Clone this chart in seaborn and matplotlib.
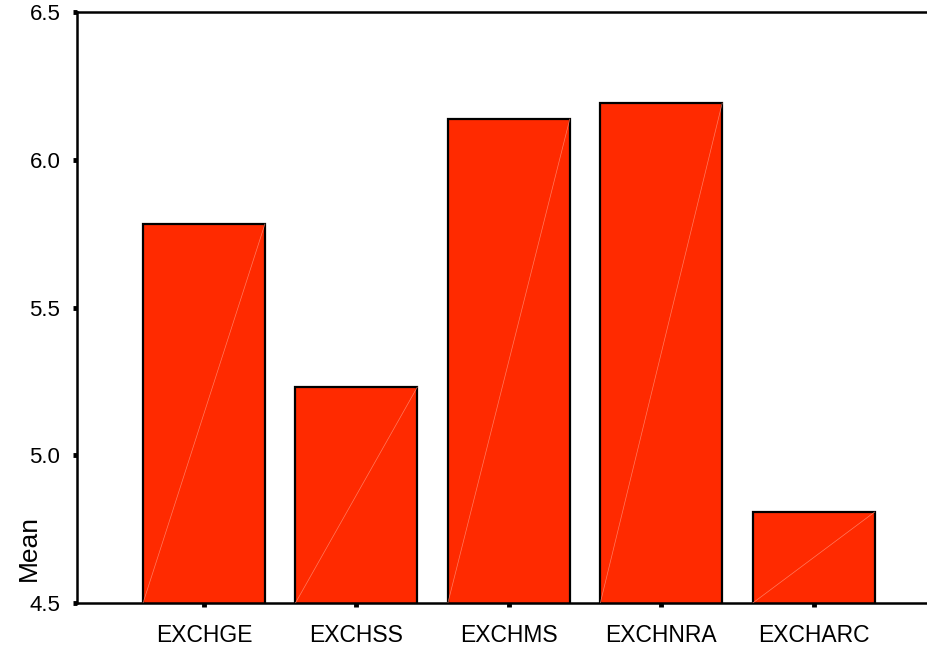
import matplotlib
matplotlib.use('Agg')
import matplotlib.pyplot as plt
import seaborn as sns
import pandas as pd

# ==================== DATA ====================
categories = ['EXCHGE', 'EXCHSS', 'EXCHMS', 'EXCHNRA', 'EXCHARC']
means = [5.783, 5.231, 6.138, 6.192, 4.808]
y_ticks = [4.5, 5.0, 5.5, 6.0, 6.5]

df = pd.DataFrame({'var': categories, 'mean': means})

sns.set_theme(style='white')
plt.rcParams['font.family'] = ['Liberation Sans', 'DejaVu Sans']
plt.rcParams['text.color'] = 'black'
plt.rcParams['axes.labelcolor'] = 'black'
plt.rcParams['xtick.color'] = 'black'
plt.rcParams['ytick.color'] = 'black'

fig = plt.figure(figsize=(9.28, 6.48), dpi=100)
ax = fig.add_axes([0.083, 0.0694, 0.917, 0.9121])

bar_color = '#FF2A00'
sns.barplot(data=df, x='var', y='mean', color=bar_color, saturation=1,
            edgecolor='black', linewidth=1.6, width=0.8, ax=ax)

ax.set_ylim(4.5, 6.5)
ax.set_xlim(-0.833, 4.75)

# thin diagonal highlight across each bar (SPSS style)
for p in ax.patches:
    x0 = p.get_x()
    w = p.get_width()
    h = p.get_height()
    ax.plot([x0, x0 + w], [4.5, h], color='#FF8F78', lw=0.5, alpha=0.8, zorder=3)

ax.set_yticks(y_ticks)
ax.set_yticklabels([f'{t:.1f}' for t in y_ticks], fontsize=16)
ax.tick_params(axis='x', labelsize=16.5, length=3, width=3.5, pad=12, direction='out')
ax.tick_params(axis='y', length=3, width=3.5, pad=9, direction='out')
ax.tick_params(bottom=True, left=True)

ax.set_xlabel('')
ax.set_ylabel('Mean', fontsize=19)
ax.yaxis.set_label_coords(-0.043, 0.093)

for side in ['left', 'bottom', 'top']:
    ax.spines[side].set_visible(True)
    ax.spines[side].set_color('black')
    ax.spines[side].set_linewidth(1.8)
ax.spines['right'].set_visible(False)

plt.savefig('out.png', dpi=100)
